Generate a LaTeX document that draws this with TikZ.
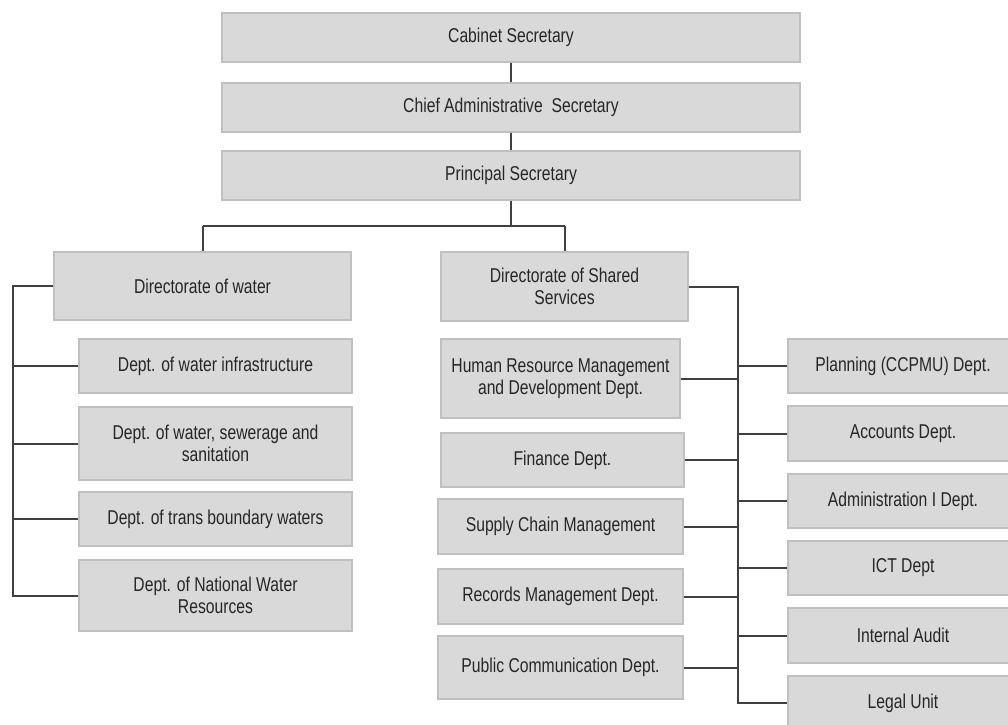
\documentclass[tikz,border=0pt]{standalone}
\usepackage{fontspec}
\setmainfont{Liberation Sans}[FakeStretch=0.785]
\begin{document}
\begin{tikzpicture}[x=1pt,y=-1pt,
  box/.style={draw=boxline, line width=1.4pt, fill=boxfill, rectangle,
    inner sep=0pt, align=center, text=ink,
    font=\fontsize{20}{22}\selectfont},
  link/.style={draw=wire, line width=2pt}]
\definecolor{boxfill}{HTML}{D9D9D9}
\definecolor{boxline}{HTML}{C0C0C0}
\definecolor{wire}{HTML}{404040}
\definecolor{ink}{HTML}{262626}
\useasboundingbox (0,0) rectangle (1008,724);
\clip (0,0) rectangle (1008,724);

% top of the hierarchy
\node[box, minimum width=578, minimum height=49] (cab) at (511,37.5) {Cabinet Secretary};
\node[box, minimum width=578, minimum height=49] (cas) at (511,107.5) {Chief Administrative~ Secretary};
\node[box, minimum width=578, minimum height=49] (ps)  at (511,175.5) {Principal Secretary};

% directorates
\node[box, minimum width=297, minimum height=68] (dw)  at (202.5,286) {Directorate of water};
\node[box, minimum width=247, minimum height=69] (dss) at (564.5,286.5) {Directorate of Shared\\Services};

% water departments
\node[box, minimum width=273, minimum height=54] (d1) at (215.5,366) {Dept. of water infrastructure};
\node[box, minimum width=273, minimum height=73] (d2) at (215.5,443.5) {Dept. of water, sewerage and\\sanitation};
\node[box, minimum width=273, minimum height=54] (d3) at (215.5,519) {Dept. of trans boundary waters};
\node[box, minimum width=273, minimum height=71] (d4) at (215.5,595.5) {Dept. of National Water\\Resources};

% shared services, left column
\node[box, minimum width=239, minimum height=79] (hr)  at (560.5,378.5) {Human Resource Management\\and Development Dept.};
\node[box, minimum width=243, minimum height=54] (fin) at (562.5,460) {Finance Dept.};
\node[box, minimum width=245, minimum height=55] (scm) at (560.5,526.5) {Supply Chain Management};
\node[box, minimum width=245, minimum height=55] (rec) at (560.5,596.5) {Records Management Dept.};
\node[box, minimum width=245, minimum height=63] (pub) at (560.5,667.5) {Public Communication Dept.};

% shared services, right column
\node[box, minimum width=230, minimum height=54] (pl)  at (903,366) {Planning (CCPMU) Dept.};
\node[box, minimum width=230, minimum height=55] (acc) at (903,433.5) {Accounts Dept.};
\node[box, minimum width=230, minimum height=54] (adm) at (903,501) {Administration I Dept.};
\node[box, minimum width=230, minimum height=54] (ict) at (903,568) {ICT Dept};
\node[box, minimum width=230, minimum height=55] (ia)  at (903,635.5) {Internal Audit};
\node[box, minimum width=230, minimum height=54] (lu)  at (903,703) {Legal Unit};

% vertical chain at the top
\draw[link] (cab.south) -- (cas.north);
\draw[link] (cas.south) -- (ps.north);
\coordinate (split) at (511,226);
\draw[link] (ps.south) -- (split);
\draw[link] (split -| dw.north) -- (split -| dss.north);
\draw[link] (split -| dw.north) -- (dw.north);
\draw[link] (split -| dss.north) -- (dss.north);

% water bus
\coordinate (lbus) at (13,0);
\draw[link] (dw.west) -- (dw.west -| lbus) -- (d4.west -| lbus) -- (d4.west);
\foreach \n in {d1,d2,d3}
  \draw[link] (\n.west -| lbus) -- (\n.west);

% shared services bus
\coordinate (rbus) at (738,0);
\draw[link] (dss.east) -- (dss.east -| rbus) -- (lu.west -| rbus) -- (lu.west);
\foreach \n in {hr,fin,scm,rec,pub}
  \draw[link] (\n.east) -- (\n.east -| rbus);
\foreach \n in {pl,acc,adm,ict,ia}
  \draw[link] (\n.west -| rbus) -- (\n.west);
\end{tikzpicture}
\end{document}
